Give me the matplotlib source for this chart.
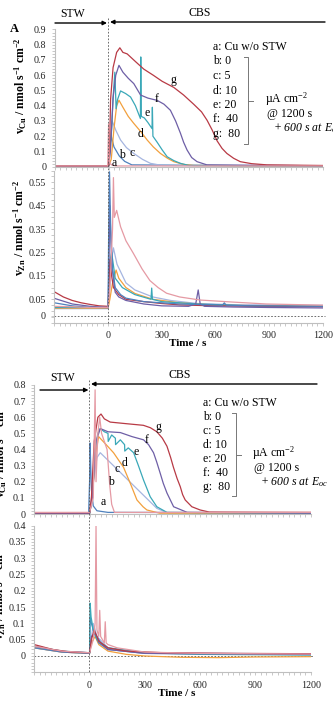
import matplotlib
matplotlib.use("Agg")
import matplotlib.pyplot as plt
from matplotlib.lines import Line2D
from matplotlib.ticker import MultipleLocator

plt.rcParams['font.family'] = ['Liberation Serif', 'DejaVu Serif']
plt.rcParams['mathtext.fontset'] = 'custom'
plt.rcParams['mathtext.rm'] = 'Liberation Serif'
plt.rcParams['mathtext.it'] = 'Liberation Serif:italic'
plt.rcParams['mathtext.bf'] = 'Liberation Serif:bold'

W, H = 333, 707

# ---------------- colours ----------------
colors = {'a': '#E59AA4', 'b': '#4F81BD', 'c': '#A5B5E0', 'd': '#F2A03D',
          'e': '#3AA8B8', 'f': '#6E5FA6', 'g': '#B83A45'}

# ---------------- Figure A : Cu ----------------
cuA_a_t = [-300, -5, 0, 3, 8, 20, 40, 1200]
cuA_a_v = [0.005, 0.005, 0.28, 0.05, 0.02, 0.01, 0.005, 0.005]
cuA_b_t = [-300, 0, 5, 15, 30, 60, 90, 130, 1200]
cuA_b_v = [0.003, 0.003, 0.12, 0.2, 0.13, 0.07, 0.035, 0.012, 0.004]
cuA_c_t = [-300, 0, 8, 20, 40, 67, 100, 141, 190, 234, 300, 1200]
cuA_c_v = [0.003, 0.003, 0.15, 0.3, 0.24, 0.175, 0.125, 0.087, 0.048, 0.022, 0.008, 0.005]
cuA_d_t = [-300, 0, 15, 30, 45, 58, 80, 110, 141, 180, 216, 250, 290, 330, 365, 420, 476, 1200]
cuA_d_v = [0.003, 0.003, 0.05, 0.25, 0.4, 0.436, 0.39, 0.33, 0.284, 0.23, 0.175, 0.13, 0.087,
           0.055, 0.033, 0.015, 0.008, 0.005]
cuA_e_t = [-300, 0, 15, 25, 35, 42, 50, 67, 95, 123, 150, 178, 180, 183, 200, 220, 243, 245,
           248, 272, 300, 328, 365, 402, 450, 1200]
cuA_e_v = [0.003, 0.003, 0.2, 0.45, 0.62, 0.38, 0.44, 0.497, 0.48, 0.457, 0.4, 0.316, 0.72,
           0.33, 0.32, 0.29, 0.25, 0.39, 0.2, 0.16, 0.11, 0.065, 0.04, 0.022, 0.008, 0.005]
cuA_f_t = [-300, 0, 10, 25, 40, 58, 80, 110, 141, 179, 220, 272, 310, 346, 375, 402, 420, 439,
           465, 495, 550, 1200]
cuA_f_v = [0.003, 0.003, 0.1, 0.45, 0.6, 0.665, 0.62, 0.58, 0.545, 0.47, 0.45, 0.435, 0.41,
           0.37, 0.3, 0.22, 0.16, 0.11, 0.06, 0.033, 0.012, 0.006]
cuA_g_t = [-300, 0, 5, 11, 25, 45, 63, 80, 104, 150, 197, 250, 300, 365, 420, 476, 520, 551,
           580, 607, 635, 662, 700, 737, 800, 886, 1200]
cuA_g_v = [0.005, 0.005, 0.1, 0.44, 0.65, 0.75, 0.78, 0.75, 0.74, 0.69, 0.64, 0.6, 0.56, 0.52,
           0.47, 0.41, 0.36, 0.305, 0.24, 0.17, 0.12, 0.087, 0.055, 0.033, 0.02, 0.012, 0.008]

# ---------------- Figure A : Zn ----------------
znA_a_t = [-300, -200, -100, 0, 10, 25, 30, 35, 48, 70, 100, 141, 190, 234, 280, 327, 400, 513,
           700, 885, 1200]
znA_a_v = [0.02, 0.018, 0.015, 0.015, 0.1, 0.35, 0.57, 0.4, 0.43, 0.36, 0.3, 0.247, 0.18, 0.13,
           0.1, 0.076, 0.06, 0.047, 0.038, 0.03, 0.025]
znA_b_t = [-300, -200, -100, 0, 3, 8, 15, 25, 40, 70, 100, 200, 400, 640, 650, 660, 800, 1200]
znA_b_v = [0.035, 0.022, 0.016, 0.014, 0.3, 0.595, 0.35, 0.18, 0.1, 0.07, 0.055, 0.04, 0.03,
           0.025, 0.035, 0.025, 0.022, 0.02]
znA_c_t = [-300, -200, -100, 0, 10, 20, 30, 50, 100, 150, 250, 350, 500, 700, 1200]
znA_c_v = [0.01, 0.01, 0.01, 0.01, 0.1, 0.22, 0.27, 0.2, 0.12, 0.09, 0.06, 0.045, 0.032, 0.027, 0.024]
znA_d_t = [-300, 0, 10, 25, 45, 60, 100, 150, 250, 400, 600, 900, 1200]
znA_d_v = [0.012, 0.012, 0.05, 0.12, 0.175, 0.14, 0.1, 0.075, 0.05, 0.035, 0.025, 0.022, 0.02]
znA_e_t = [-300, 0, 5, 12, 20, 40, 80, 150, 240, 244, 248, 300, 500, 800, 1200]
znA_e_v = [0.015, 0.015, 0.1, 0.22, 0.25, 0.14, 0.1, 0.07, 0.05, 0.098, 0.05, 0.04, 0.03, 0.022, 0.02]
znA_f_t = [-300, -200, -100, 0, 5, 10, 20, 40, 60, 100, 200, 300, 450, 490, 504, 515, 540, 700,
           900, 1200]
znA_f_v = [0.054, 0.03, 0.02, 0.015, 0.2, 0.45, 0.2, 0.08, 0.06, 0.045, 0.03, 0.022, 0.02, 0.03,
           0.09, 0.03, 0.02, 0.017, 0.015, 0.013]
znA_g_t = [-300, -250, -200, -150, -100, -50, 0, 5, 10, 20, 30, 60, 100, 200, 300, 400, 600, 900, 1200]
znA_g_v = [0.082, 0.06, 0.045, 0.035, 0.028, 0.022, 0.02, 0.1, 0.22, 0.15, 0.1, 0.07, 0.05, 0.04,
           0.032, 0.026, 0.022, 0.02, 0.018]

# ---------------- Figure B : Cu ----------------
cuB_a_t = [-300, 0, 20, 30, 35, 45, 55, 65, 80, 95, 110, 120, 135, 1200]
cuB_a_v = [0.01, 0.01, 0.1, 0.77, 0.2, 0.5, 0.6, 0.5, 0.45, 0.4, 0.17, 0.06, 0.01, 0.01]
cuB_b_t = [-300, -5, 0, 3, 6, 10, 20, 40, 100, 1200]
cuB_b_v = [0.005, 0.005, 0.2, 0.44, 0.3, 0.15, 0.05, 0.02, 0.01, 0.008]
cuB_c_t = [-300, 0, 20, 40, 58, 150, 250, 365, 420, 1200]
cuB_c_v = [0.003, 0.003, 0.2, 0.35, 0.38, 0.277, 0.164, 0.035, 0.008, 0.005]
cuB_d_t = [-300, 0, 15, 30, 49, 90, 130, 184, 221, 257, 290, 311, 380, 1200]
cuB_d_v = [0.003, 0.003, 0.1, 0.35, 0.48, 0.43, 0.38, 0.29, 0.19, 0.087, 0.045, 0.025, 0.005, 0.005]
cuB_e_t = [-300, 0, 15, 30, 45, 58, 80, 100, 101, 120, 140, 141, 167, 190, 191, 210, 239, 265,
           293, 329, 365, 420, 1200]
cuB_e_v = [0.003, 0.003, 0.1, 0.4, 0.5, 0.53, 0.51, 0.5, 0.45, 0.49, 0.47, 0.43, 0.46, 0.43,
           0.39, 0.41, 0.38, 0.3, 0.21, 0.107, 0.045, 0.01, 0.005]
cuB_f_t = [-300, 0, 15, 35, 58, 100, 167, 230, 293, 320, 347, 365, 384, 400, 420, 456, 530, 1200]
cuB_f_v = [0.003, 0.003, 0.1, 0.45, 0.53, 0.51, 0.505, 0.48, 0.46, 0.43, 0.38, 0.32, 0.25,
           0.19, 0.13, 0.045, 0.01, 0.005]
cuB_g_t = [-300, 0, 10, 25, 45, 62, 80, 112, 200, 292, 330, 365, 395, 420, 440, 455, 475, 492,
           505, 519, 555, 600, 650, 1200]
cuB_g_v = [0.008, 0.008, 0.1, 0.45, 0.6, 0.62, 0.59, 0.57, 0.56, 0.55, 0.535, 0.51, 0.47, 0.42,
           0.35, 0.29, 0.22, 0.17, 0.12, 0.087, 0.045, 0.025, 0.012, 0.01]

# ---------------- Figure B : Zn ----------------
znB_a_t = [-300, -150, 0, 20, 30, 35, 40, 50, 55, 60, 80, 85, 90, 100, 150, 300, 600, 1200]
znB_a_v = [0.03, 0.015, 0.01, 0.05, 0.1, 0.4, 0.08, 0.06, 0.14, 0.06, 0.04, 0.105, 0.04, 0.035,
           0.025, 0.012, 0.008, 0.006]
znB_b_t = [-300, -150, 0, 3, 10, 25, 50, 100, 300, 1200]
znB_b_v = [0.025, 0.012, 0.008, 0.12, 0.1, 0.07, 0.04, 0.02, 0.008, 0.004]
znB_c_t = [-300, -150, 0, 20, 40, 100, 300, 1200]
znB_c_v = [0.025, 0.012, 0.008, 0.1, 0.06, 0.025, 0.01, 0.006]
znB_d_t = [-300, -150, 0, 10, 30, 50, 100, 200, 300, 500, 700, 900, 1200]
znB_d_v = [0.025, 0.012, 0.008, 0.04, 0.06, 0.035, 0.015, 0.005, 0.0, -0.004, -0.005, -0.003, -0.002]
znB_e_t = [-300, -150, 0, 3, 8, 20, 40, 100, 300, 600, 1200]
znB_e_v = [0.03, 0.015, 0.01, 0.162, 0.12, 0.08, 0.05, 0.025, 0.01, 0.005, 0.003]
znB_f_t = [-300, -150, 0, 10, 30, 60, 100, 300, 1200]
znB_f_v = [0.03, 0.014, 0.01, 0.06, 0.07, 0.04, 0.02, 0.008, 0.005]
znB_g_t = [-300, -200, -100, 0, 10, 25, 50, 100, 200, 400, 800, 1200]
znB_g_v = [0.035, 0.02, 0.012, 0.01, 0.05, 0.08, 0.045, 0.025, 0.015, 0.01, 0.008, 0.007]

legend_lines = ['a: Cu w/o STW', 'b: 0', 'c: 5', 'd: 10', 'e: 20', 'f:  40', 'g:  80']
xticks_major = [0, 300, 600, 900, 1200]

fig = plt.figure(figsize=(W / 100, H / 100), dpi=100)
fig.patch.set_facecolor('white')


def F(x, y):
    return (x / W, 1 - y / H)


def add_ax(l, r, t, b):
    return fig.add_axes([l / W, 1 - b / H, (r - l) / W, (b - t) / H])


def style(ax, ylim, yticks, ytlabels, yminor, show_x):
    ax.set_xlim(-300, 1200)
    ax.set_ylim(*ylim)
    for s in ['top', 'right']:
        ax.spines[s].set_visible(False)
    for s in ['left', 'bottom']:
        ax.spines[s].set_color('#BFBFBF')
        ax.spines[s].set_linewidth(0.8)
    ax.set_yticks(yticks)
    ax.set_yticklabels(ytlabels)
    ax.yaxis.set_minor_locator(MultipleLocator(yminor))
    ax.xaxis.set_minor_locator(MultipleLocator(30))
    ax.set_xticks(xticks_major if show_x else [])
    if show_x:
        ax.set_xticklabels([str(v) for v in xticks_major])
    ax.tick_params(which='both', direction='out', color='#BFBFBF', length=2.2, width=0.6,
                   labelsize=7.2, labelcolor='#222222', pad=4)
    ax.patch.set_alpha(0)


def draw(ax, series, order):
    for k in order:
        t, v = series[k]
        ax.plot(t, v, color=colors[k], lw=0.9, solid_joinstyle='round')


def dashed_fig_line(x0, y0, x1, y1):
    fig.add_artist(Line2D([x0 / W, x1 / W], [1 - y0 / H, 1 - y1 / H], transform=fig.transFigure,
                          color='#555555', lw=0.6, ls=(0, (2, 2))))


def solid_fig_line(xs, ys, lw=0.7, color='#777777'):
    fig.add_artist(Line2D([x / W for x in xs], [1 - y / H for y in ys], transform=fig.transFigure,
                          color=color, lw=lw))


def arrow(x0, y, x1):
    fig.add_artist(matplotlib.patches.FancyArrowPatch(F(x0, y), F(x1, y), transform=fig.transFigure,
                                                      arrowstyle='-|>', mutation_scale=6,
                                                      color='black', lw=1.0, shrinkA=0, shrinkB=0))


def legend(x, y0, dy, bx, by0, by1, tx, ty):
    for i, s in enumerate(legend_lines):
        fig.text(x / W, 1 - (y0 + i * dy) / H, s, fontsize=8.5, va='center', ha='left')
    solid_fig_line([bx - 4, bx, bx, bx - 4], [by0, by0, by1, by1])
    mid = (by0 + by1) / 2
    solid_fig_line([bx, bx + 5], [mid, mid])
    fig.text(tx / W, 1 - ty / H, r'µA cm$^{-2}$', fontsize=8.5, va='center', ha='left')
    fig.text((tx + 2) / W, 1 - (ty + 15) / H, '@ 1200 s', fontsize=8.5, va='center', ha='left')
    fig.text((tx + 8) / W, 1 - (ty + 29.5) / H, r'+ 600 s at $E_{oc}$', fontsize=8.5,
             va='center', ha='left', style='italic')


ylab_cu = r'$\mathbf{v_{Cu}}$ / nmol s$^{\mathbf{-1}}$ cm$^{\mathbf{-2}}$'
ylab_zn = r'$\mathbf{v_{Zn}}$ / nmol s$^{\mathbf{-1}}$ cm$^{\mathbf{-2}}$'
order = ['b', 'c', 'd', 'e', 'f', 'g', 'a']

# ===== Panel 1 =====
ax1 = add_ax(55, 323, 29.5, 166.7)
style(ax1, (0, 0.9), [0, .1, .2, .3, .4, .5, .6, .7, .8, .9],
      ['0', '0.1', '0.2', '0.3', '0.4', '0.5', '0.6', '0.7', '0.8', '0.9'], 0.02, False)
draw(ax1, {'a': (cuA_a_t, cuA_a_v), 'b': (cuA_b_t, cuA_b_v), 'c': (cuA_c_t, cuA_c_v),
           'd': (cuA_d_t, cuA_d_v), 'e': (cuA_e_t, cuA_e_v), 'f': (cuA_f_t, cuA_f_v),
           'g': (cuA_g_t, cuA_g_v)}, order)
for lab, x, y in [('g', 173, 80), ('f', 157, 99), ('e', 147, 113), ('d', 141, 134),
                  ('c', 132, 153), ('b', 122, 155), ('a', 114, 163)]:
    fig.text(x / W, 1 - y / H, lab, fontsize=8.5, ha='center', va='center')

# ===== Panel 2 =====
zero_A = -0.02
ax2 = add_ax(54.4, 322.7, 170.6, 322.7)
style(ax2, (-0.05, 0.6), [zero_A, .05, .15, .25, .35, .45, .55],
      ['0', '0.05', '0.15', '0.25', '0.35', '0.45', '0.55'], 0.025, True)
ax2.axhline(zero_A, color='#555555', lw=0.6, ls=(0, (2, 2)), xmax=1.01, clip_on=False)
draw(ax2, {'a': (znA_a_t, znA_a_v), 'b': (znA_b_t, znA_b_v), 'c': (znA_c_t, znA_c_v),
           'd': (znA_d_t, znA_d_v), 'e': (znA_e_t, znA_e_v), 'f': (znA_f_t, znA_f_v),
           'g': (znA_g_t, znA_g_v)}, ['c', 'd', 'e', 'g', 'f', 'b', 'a'])
fig.text(188 / W, 1 - 343.5 / H, 'Time / s', fontsize=8, fontweight='bold', ha='center', va='center')

fig.text(21 / W, 1 - 86 / H, ylab_cu, rotation=90, fontsize=8.5, fontweight='bold',
         ha='center', va='center')
fig.text(20 / W, 1 - 228 / H, ylab_zn, rotation=90, fontsize=8.5, fontweight='bold',
         ha='center', va='center')
fig.text(14 / W, 1 - 29 / H, 'A', fontsize=9, fontweight='bold', ha='center', va='center')

dashed_fig_line(108, 18, 108, 323)
fig.text(73 / W, 1 - 14 / H, 'STW', fontsize=8.5, ha='center', va='center')
fig.text(200 / W, 1 - 13 / H, 'CBS', fontsize=8.5, ha='center', va='center')
arrow(55, 23, 107)
arrow(325, 22, 110)
legend(213, 47, 14.5, 248, 57, 144, 265, 99)

# ===== Panel 3 =====
ax3 = add_ax(34.3, 310.7, 385, 514)
style(ax3, (0, 0.8), [0, .1, .2, .3, .4, .5, .6, .7, .8],
      ['0', '0.1', '0.2', '0.3', '0.4', '0.5', '0.6', '0.7', '0.8'], 0.02, False)
draw(ax3, {'a': (cuB_a_t, cuB_a_v), 'b': (cuB_b_t, cuB_b_v), 'c': (cuB_c_t, cuB_c_v),
           'd': (cuB_d_t, cuB_d_v), 'e': (cuB_e_t, cuB_e_v), 'f': (cuB_f_t, cuB_f_v),
           'g': (cuB_g_t, cuB_g_v)}, order)
for lab, x, y in [('g', 158, 427), ('f', 147, 440), ('e', 136, 452), ('d', 125, 463),
                  ('c', 117, 469), ('b', 111, 482), ('a', 103, 502)]:
    fig.text(x / W, 1 - y / H, lab, fontsize=8.5, ha='center', va='center')

# ===== Panel 4 =====
ax4 = add_ax(34.3, 310.7, 525.6, 672.3)
style(ax4, (-0.05, 0.4), [0, .05, .1, .15, .2, .25, .3, .35, .4],
      ['0', '0.05', '0.1', '0.15', '0.2', '0.25', '0.3', '0.35', '0.4'], 0.01, True)
ax4.axhline(0, color='#555555', lw=0.6, ls=(0, (2, 2)), xmax=1.01, clip_on=False)
draw(ax4, {'a': (znB_a_t, znB_a_v), 'b': (znB_b_t, znB_b_v), 'c': (znB_c_t, znB_c_v),
           'd': (znB_d_t, znB_d_v), 'e': (znB_e_t, znB_e_v), 'f': (znB_f_t, znB_f_v),
           'g': (znB_g_t, znB_g_v)}, ['c', 'd', 'b', 'e', 'f', 'g', 'a'])
fig.text(177 / W, 1 - 694 / H, 'Time / s', fontsize=8, fontweight='bold', ha='center', va='center')

fig.text(1 / W, 1 - 450 / H, ylab_cu, rotation=90, fontsize=8.5, fontweight='bold',
         ha='center', va='center')
fig.text(0 / W, 1 - 592 / H, ylab_zn, rotation=90, fontsize=8.5, fontweight='bold',
         ha='center', va='center')

dashed_fig_line(89.3, 380, 89.3, 673)
fig.text(63 / W, 1 - 378 / H, 'STW', fontsize=8.5, ha='center', va='center')
fig.text(180 / W, 1 - 375 / H, 'CBS', fontsize=8.5, ha='center', va='center')
arrow(40, 390, 88.5)
arrow(317, 384, 91)
legend(203, 403, 14, 236, 413, 496, 252, 453)

fig.savefig('out.png', dpi=100, facecolor='white')
